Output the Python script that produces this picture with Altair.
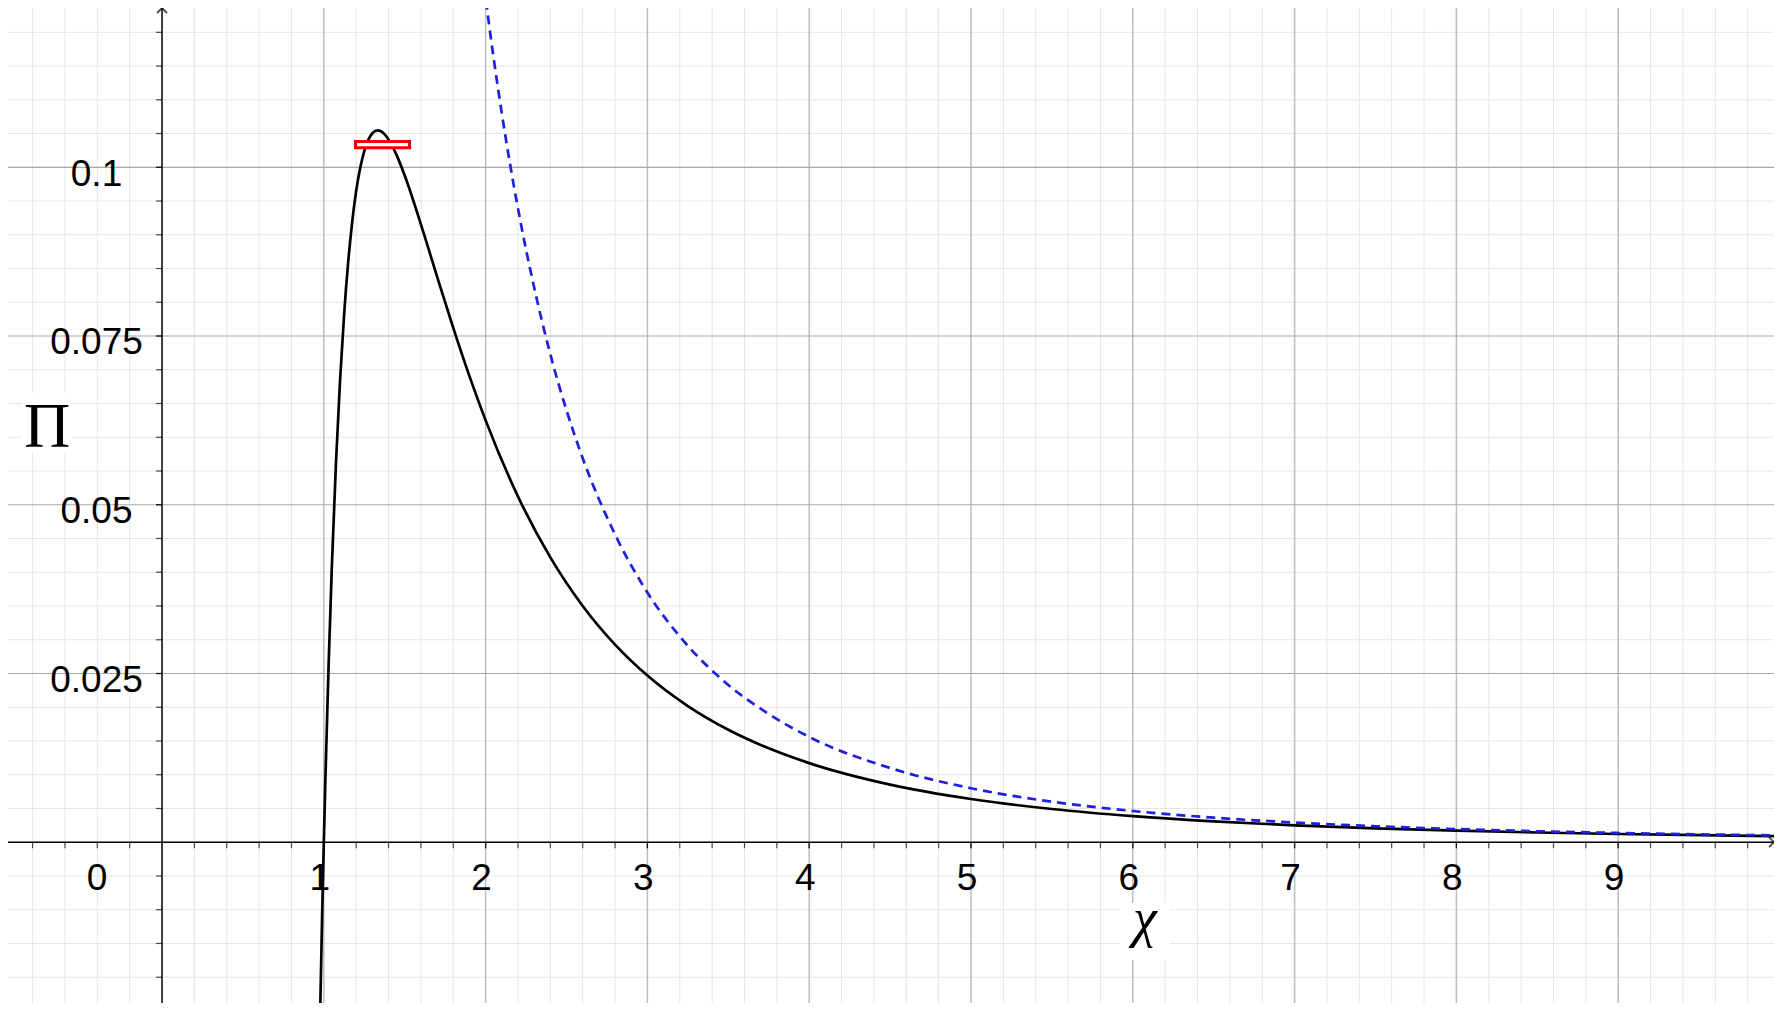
import altair as alt
import pandas as pd

# ---- data ----
black_x = [0.97, 0.99, 1.0, 1.01, 1.03, 1.05, 1.075, 1.1, 1.125, 1.15, 1.175, 1.2, 1.225, 1.25, 1.275,
           1.3, 1.333, 1.375, 1.4, 1.45, 1.5, 1.6, 1.7, 1.8, 1.9, 2.0, 2.2, 2.4, 2.6, 2.8, 3.0,
           3.25, 3.5, 3.75, 4.0, 4.5, 5.0, 5.5, 6.0, 6.5, 7.0, 7.5, 8.0, 8.5, 9.0, 9.5, 10.0]
black_y = [-0.0339, -0.0104, 0.0, 0.00961, 0.02665, 0.0411, 0.05616, 0.0683, 0.07804, 0.0858, 0.09181,
           0.0965, 0.09992, 0.1024, 0.10406, 0.10504, 0.10547, 0.10491, 0.1041, 0.1018, 0.09877,
           0.09155, 0.08381, 0.07621, 0.06906, 0.0625, 0.05123, 0.0422, 0.03501, 0.02928, 0.02469,
           0.02017, 0.01666, 0.01391, 0.01172, 0.00854, 0.0064, 0.00492, 0.00386, 0.00308, 0.0025,
           0.00206, 0.00171, 0.00144, 0.00122, 0.00104, 0.0009]

blue_x = [1.99, 2.05, 2.1, 2.2, 2.3, 2.4, 2.5, 2.6, 2.8, 3.0, 3.25, 3.5, 3.75, 4.0, 4.5, 5.0, 5.5,
          6.0, 6.5, 7.0, 7.5, 8.0, 8.5, 9.0, 9.5, 10.0]
blue_y = [0.1269, 0.1161, 0.108, 0.0939, 0.0822, 0.0723, 0.064, 0.0569, 0.0456, 0.0370, 0.0291,
          0.0233, 0.0190, 0.0156, 0.0110, 0.0080, 0.0060, 0.00463, 0.00364, 0.00292, 0.00237,
          0.00195, 0.00163, 0.00137, 0.00117, 0.0010]

marker_x = [1.196, 1.530]
marker_y = [0.10289, 0.10383]

x_tick_labels = ["0", "1", "2", "3", "4", "5", "6", "7", "8", "9"]
x_tick_values = [0, 1, 2, 3, 4, 5, 6, 7, 8, 9]
y_tick_labels = ["0.025", "0.05", "0.075", "0.1"]
y_tick_values = [0.025, 0.05, 0.075, 0.1]

x_major = [1, 2, 3, 4, 5, 6, 7, 8, 9]
y_major = [0.025, 0.05, 0.075, 0.1]
x_minor = [round(-0.8 + 0.2 * i, 2) for i in range(54)]
y_minor = [round(-0.02 + 0.005 * i, 3) for i in range(29)]

x_axis_label = "χ"
y_axis_label = "Π"

# ---- scales ----
XD = [-0.952, 9.963]
YD = [-0.02382, 0.1236]
xs = alt.Scale(domain=XD, nice=False, zero=False)
ys = alt.Scale(domain=YD, nice=False, zero=False)


def X(f="x"):
    return alt.X(f"{f}:Q", scale=xs, axis=None)


def Y(f="y"):
    return alt.Y(f"{f}:Q", scale=ys, axis=None)


minor_x_df = pd.DataFrame({"x": [v for v in x_minor if abs(v - round(v)) > 1e-6]})
minor_y_df = pd.DataFrame({"y": [v for v in y_minor if abs(v / 0.025 - round(v / 0.025)) > 1e-6]})
major_x_df = pd.DataFrame({"x": x_major})
major_y_df = pd.DataFrame({"y": y_major})

grid_minor_v = alt.Chart(minor_x_df).mark_rule(color="#e6e6e6", strokeWidth=1).encode(x=X())
grid_minor_h = alt.Chart(minor_y_df).mark_rule(color="#e6e6e6", strokeWidth=1).encode(y=Y())
grid_major_v = alt.Chart(major_x_df).mark_rule(color="#bdbdbd", strokeWidth=1.5).encode(x=X())
grid_major_h = alt.Chart(major_y_df).mark_rule(color="#a8a8a8", strokeWidth=1.2).encode(y=Y())

axis_df = pd.DataFrame({"x": [0.0], "y": [0.0]})
x_axis = alt.Chart(axis_df).mark_rule(color="black", strokeWidth=1.5).encode(y=Y())
y_axis = alt.Chart(axis_df).mark_rule(color="black", strokeWidth=1.5).encode(x=X())

xt_df = pd.DataFrame({"x": [v for v in x_minor if abs(v) > 1e-6] + [float(v) for v in x_major], "y": 0.0})
yt_df = pd.DataFrame({"y": [v for v in y_minor if abs(v) > 1e-6] + y_major, "x": 0.0})
x_ticks = alt.Chart(xt_df).mark_tick(orient="vertical", size=6, yOffset=3, color="black",
                                      thickness=1.2).encode(x=X(), y=Y())
y_ticks = alt.Chart(yt_df).mark_tick(orient="horizontal", size=6, xOffset=-3, color="black",
                                      thickness=1.2).encode(x=X(), y=Y())

xl_df = pd.DataFrame({"label": x_tick_labels,
                      "x": [(-0.402 if v == 0 else v - 0.025) for v in x_tick_values],
                      "y": -0.00708})
yl_df = pd.DataFrame({"label": y_tick_labels, "x": -0.405,
                      "y": [v - 0.00273 for v in y_tick_values]})
x_labels = alt.Chart(xl_df).mark_text(font="Liberation Sans", fontSize=37, align="center",
                                      baseline="alphabetic", color="black").encode(
    x=X(), y=Y(), text="label:N")
y_labels = alt.Chart(yl_df).mark_text(font="Liberation Sans", fontSize=37, align="center",
                                      baseline="alphabetic", color="black").encode(
    x=X(), y=Y(), text="label:N")

black_df = pd.DataFrame({"x": black_x, "y": black_y})
blue_df = pd.DataFrame({"x": blue_x, "y": blue_y})
black_line = alt.Chart(black_df).mark_line(color="black", strokeWidth=2.7, interpolate="monotone",
                                           clip=True).encode(x=X(), y=Y(), order="x:Q")
blue_line = alt.Chart(blue_df).mark_line(color="#1f1fdc", strokeWidth=2.7, strokeDash=[9, 6],
                                         interpolate="monotone", clip=True).encode(
    x=X(), y=Y(), order="x:Q")

marker_df = pd.DataFrame({"x": [marker_x[0]], "x2": [marker_x[1]],
                          "y": [marker_y[0]], "y2": [marker_y[1]]})
marker = alt.Chart(marker_df).mark_rect(fill="white", stroke="#ee0000", strokeWidth=3).encode(
    x=X(), x2="x2", y=Y(), y2="y2")

lab_box_df = pd.DataFrame({"x": [-0.865, 5.921], "x2": [-0.556, 6.230],
                           "y": [0.05782, -0.01745], "y2": [0.06656, -0.0090]})
lab_boxes = alt.Chart(lab_box_df).mark_rect(fill="white").encode(x=X(), x2="x2", y=Y(), y2="y2")

pi_df = pd.DataFrame({"label": [y_axis_label], "x": [-0.711], "y": [0.05856]})
chi_df = pd.DataFrame({"label": [x_axis_label], "x": [6.075], "y": [-0.0139]})
pi_text = alt.Chart(pi_df).mark_text(font="Liberation Serif", fontSize=64, align="center",
                                     baseline="alphabetic", color="black").encode(
    x=X(), y=Y(), text="label:N")
chi_text = alt.Chart(chi_df).mark_text(font="Liberation Serif", fontStyle="italic", fontSize=54,
                                       align="center", baseline="alphabetic", color="black").encode(
    x=X(), y=Y(), text="label:N")

arrow_up_df = pd.DataFrame({"x": [0.0], "y": [YD[1]]})
arrow_right_df = pd.DataFrame({"x": [XD[1]], "y": [0.0]})
arrow_up = alt.Chart(arrow_up_df).mark_point(shape="M -1 1 L 0 0 L 1 1", size=100, filled=False,
                                             color="black", strokeWidth=1.8, clip=False).encode(
    x=X(), y=Y())
arrow_right = alt.Chart(arrow_right_df).mark_point(shape="M -1 -1 L 0 0 L -1 1", size=100,
                                                   filled=False, color="black", strokeWidth=1.8,
                                                   clip=False).encode(x=X(), y=Y())

chart = alt.layer(
    grid_minor_v, grid_minor_h, grid_major_v, grid_major_h,
    x_axis, y_axis, x_ticks, y_ticks,
    x_labels, y_labels,
    black_line, blue_line, marker,
    lab_boxes, pi_text, chi_text,
    arrow_up, arrow_right,
).properties(
    width=1766, height=995,
    autosize=alt.AutoSizeParams(type="none"),
    padding=0,
).configure_view(stroke=None)

chart.save("out.html", embed_options={"renderer": "svg", "actions": False})
